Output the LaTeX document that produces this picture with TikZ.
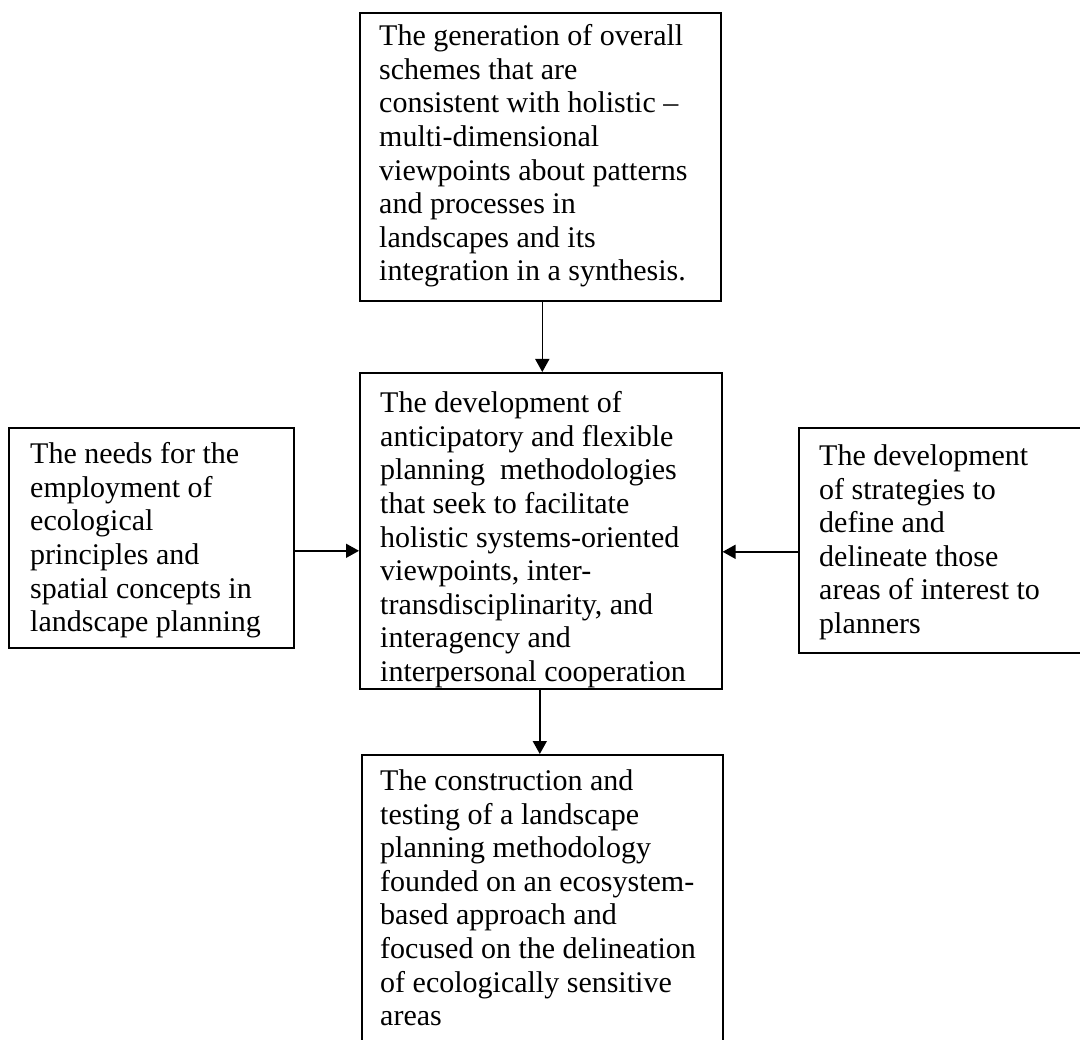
\documentclass[tikz,border=0pt]{standalone}
\usepackage{fontspec}
\setmainfont[Ligatures={TeX,NoCommon}]{Liberation Serif}
\usetikzlibrary{arrows.meta}
\begin{document}
\frenchspacing
\begin{tikzpicture}[x=1pt,y=-1pt,
  framebox/.style={draw=black,line width=1.6pt,inner sep=0pt,anchor=north west},
  boxtext/.style={inner sep=0pt,anchor=north west,align=left,
    font=\fontsize{30}{33.6}\selectfont},
  arr/.style={line width=1.6pt,-{Triangle[length=13pt,width=14pt]}}]
  % page frame
  \useasboundingbox[fill=white] (0,0) rectangle (1080,1040);

  % boxes (first-line cap height is about 20.6pt, so text tops sit at baseline - 20.6)
  \node[framebox,minimum width=361pt,minimum height=288pt] (top) at (359,12) {};
  \node[boxtext] (toptext) at ([shift={(20pt,-12.4pt)}]top.north west)
    {The generation of overall\\schemes that are\\consistent with holistic –\\multi-dimensional\\viewpoints about patterns\\and processes in\\landscapes and its\\integration in a synthesis.};

  \node[framebox,minimum width=362pt,minimum height=316pt] (mid) at (359,372) {};
  \node[boxtext] (midtext) at ([shift={(21pt,-19.4pt)}]mid.north west)
    {The development of\\anticipatory and flexible\\planning\ \ methodologies\\that seek to facilitate\\holistic systems-oriented\\viewpoints, inter-\\transdisciplinarity, and\\interagency and\\interpersonal cooperation};

  \node[framebox,minimum width=285pt,minimum height=220pt] (left) at (8,427) {};
  \node[boxtext] (lefttext) at ([shift={(22pt,-15.4pt)}]left.north west)
    {The needs for the\\employment of\\ecological\\principles and\\spatial concepts in\\landscape planning};

  \node[framebox,minimum width=300pt,minimum height=225pt] (right) at (798,427) {};
  \node[boxtext] (righttext) at ([shift={(21pt,-17.4pt)}]right.north west)
    {The development\\of strategies to\\define and\\delineate those\\areas of interest to\\planners};

  \node[framebox,minimum width=361pt,minimum height=310pt] (bot) at (361,754) {};
  \node[boxtext] (bottext) at ([shift={(19pt,-15.4pt)}]bot.north west)
    {The construction and\\testing of a landscape\\planning methodology\\founded on an ecosystem-\\based approach and\\focused on the delineation\\of ecologically sensitive\\areas};

  % connectors
  \draw[arr] ([xshift=2pt]top.south) -- ([xshift=2pt]top.south |- mid.north);
  \draw[arr] ([xshift=-1pt]mid.south) -- ([xshift=-1pt]mid.south |- bot.north);
  \draw[arr] ([yshift=-13pt]left.east) -- ([yshift=-13pt]left.east -| mid.west);
  \draw[arr] ([yshift=-11.5pt]right.west) -- ([yshift=-11.5pt]right.west -| mid.east);
\end{tikzpicture}
\end{document}
